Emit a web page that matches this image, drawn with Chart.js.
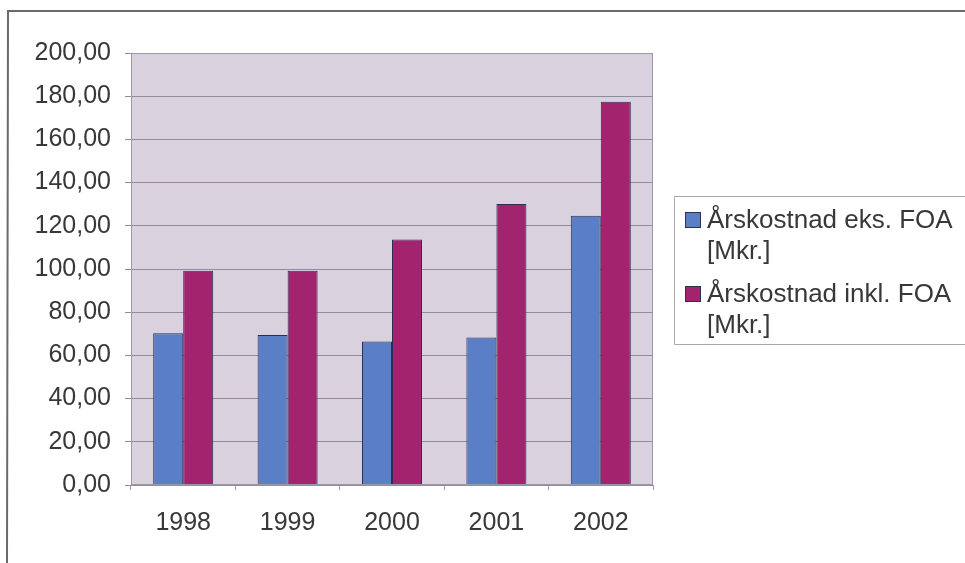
<!DOCTYPE html>
<html>
<head>
<meta charset="utf-8">
<script src="https://cdn.jsdelivr.net/npm/chart.js@4/dist/chart.umd.min.js"></script>
<style>
  html, body { margin: 0; padding: 0; background: #ffffff; }
  #wrap { width: 965px; height: 563px; position: relative; }
</style>
</head>
<body>
<div id="wrap"><canvas id="c" width="965" height="563"></canvas></div>
<script>
// Annual cost per year, million kroner
const years = ['1998', '1999', '2000', '2001', '2002'];
const costExclFOA = [70.3, 69.4, 66.4, 68.3, 124.7];
const costInclFOA = [99.2, 99.2, 113.6, 130.1, 177.4];
const seriesNames = ['Årskostnad eks. FOA [Mkr.]', 'Årskostnad inkl. FOA [Mkr.]'];
const legendLines = [['Årskostnad eks. FOA', '[Mkr.]'], ['Årskostnad inkl. FOA', '[Mkr.]']];
const yTicks = [0, 20, 40, 60, 80, 100, 120, 140, 160, 180, 200];

const FONT = '"Liberation Sans", Arial, sans-serif';
const TEXT = '#383838';

// Outer frame, plot background and legend box
const decor = {
  id: 'decor',
  beforeDraw(chart) {
    const { ctx, chartArea: a } = chart;
    ctx.save();
    ctx.fillStyle = '#ffffff';
    ctx.fillRect(0, 0, chart.width, chart.height);
    ctx.strokeStyle = '#6a6a6a';
    ctx.lineWidth = 2;
    ctx.beginPath();
    ctx.moveTo(7, chart.height);
    ctx.lineTo(8, 11);
    ctx.lineTo(chart.width, 11);
    ctx.stroke();
    ctx.fillStyle = '#d9d2de';
    ctx.fillRect(a.left, a.top, a.right - a.left, a.bottom - a.top);
    ctx.restore();
  },
  afterDraw(chart) {
    const { ctx, chartArea: a } = chart;
    ctx.save();
    ctx.strokeStyle = '#9a98aa';
    ctx.lineWidth = 1;
    ctx.strokeRect(a.left + 0.5, a.top + 0.5, a.right - a.left - 1, a.bottom - a.top - 1);

    // legend
    ctx.strokeStyle = '#a8a8a8';
    ctx.beginPath();
    ctx.moveTo(chart.width, 196.5);
    ctx.lineTo(674.5, 196.5);
    ctx.lineTo(674.5, 344.5);
    ctx.lineTo(chart.width, 344.5);
    ctx.stroke();
    ctx.font = '26px ' + FONT;
    ctx.textBaseline = 'alphabetic';
    const baselines = [228, 302];
    chart.data.datasets.forEach((ds, i) => {
      const y = baselines[i];
      ctx.fillStyle = ds.backgroundColor;
      ctx.fillRect(686, y - 15, 14, 14);
      ctx.strokeStyle = '#303050';
      ctx.strokeRect(685.5, y - 15.5, 15, 15);
      ctx.fillStyle = TEXT;
      legendLines[i].forEach((line, j) => {
        ctx.fillText(line, 707, y + j * 31);
      });
    });
    ctx.restore();
  }
};

new Chart(document.getElementById('c'), {
  type: 'bar',
  data: {
    labels: years,
    datasets: [
      { label: seriesNames[0], data: costExclFOA, backgroundColor: '#5b7fc6',
        borderColor: '#2e2e52', borderWidth: 1 },
      { label: seriesNames[1], data: costInclFOA, backgroundColor: '#a2246f',
        borderColor: '#2e2e52', borderWidth: 1 }
    ]
  },
  options: {
    responsive: false,
    animation: false,
    devicePixelRatio: 1,
    layout: { padding: { left: 0, right: 312, top: 53, bottom: 0 } },
    plugins: { legend: { display: false }, tooltip: { enabled: false } },
    datasets: { bar: { categoryPercentage: 0.575, barPercentage: 1.0 } },
    scales: {
      x: {
        offset: true,
        grid: { offset: true, drawOnChartArea: false, drawTicks: true, tickLength: 5, color: '#9a98aa' },
        border: { display: false },
        ticks: { color: TEXT, font: { family: FONT, size: 25 }, padding: 18 },
        afterFit(s) { s.height = 78; }
      },
      y: {
        min: 0, max: 200,
        afterBuildTicks(s) { s.ticks = yTicks.map(v => ({ value: v })); },
        grid: { color: '#8e8c9e', lineWidth: 1, drawTicks: true, tickLength: 6 },
        border: { display: false },
        ticks: {
          color: TEXT, font: { family: FONT, size: 25 }, padding: 14,
          callback: v => v.toFixed(2).replace('.', ',')
        },
        afterFit(s) { s.width = 131; }
      }
    }
  },
  plugins: [decor]
});
</script>
</body>
</html>
